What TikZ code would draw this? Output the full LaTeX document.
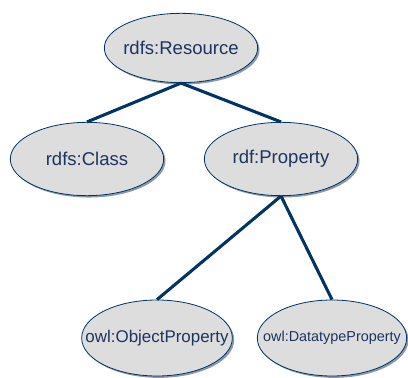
\documentclass[tikz,border=0pt]{standalone}
\usepackage{fontspec}
\setmainfont{Liberation Sans}
\usetikzlibrary{shapes.geometric,shadows}
\definecolor{navy}{RGB}{0,51,102}
\definecolor{inktext}{RGB}{28,52,98}
\definecolor{ovalfill}{RGB}{221,221,221}
\tikzset{
  oval/.style={ellipse, draw=navy, line width=0.6pt, fill=ovalfill, text=inktext,
    inner sep=0pt, minimum width=115pt, minimum height=55pt,
    drop shadow={shadow xshift=1.4pt, shadow yshift=-1.4pt, fill=navy!60!black, opacity=0.45}},
  link/.style={draw=navy, line width=2.3pt}
}
\newcommand{\ovaltext}[1]{\makebox[0pt]{#1}}
\begin{document}
\begin{tikzpicture}[x=0.75pt, y=-0.75pt]
                \useasboundingbox (0,0) rectangle (408,378);
                %Nodes
                \node[oval, minimum height=52pt, font=\fontsize{13.9}{16}\selectfont] at (181,48) (res) {\ovaltext{rdfs:Resource}};
                \node[oval, font=\fontsize{13.9}{16}\selectfont] at (87,159) (cls) {\ovaltext{rdfs:Class}};
                \node[oval, font=\fontsize{13.9}{16}\selectfont] at (281,159) (prop) {\ovaltext{rdf:Property}};
                \node[oval, minimum width=113pt, minimum height=57pt, font=\fontsize{12.7}{15}\selectfont] at (157,338) (objprop) {\ovaltext{owl:ObjectProperty}};
                \node[oval, minimum width=112pt, minimum height=57pt, font=\fontsize{10.8}{13}\selectfont] at (332,338) (dtprop) {\ovaltext{owl:DatatypeProperty}};

                %Lines
                \draw[link] (res.south) -- (cls.north);
                \draw[link] (res.south) -- (prop.north);
                \draw[link] (prop.south) -- (objprop.north);
                \draw[link] (prop.south) -- (dtprop.north);
            \end{tikzpicture}
\end{document}
